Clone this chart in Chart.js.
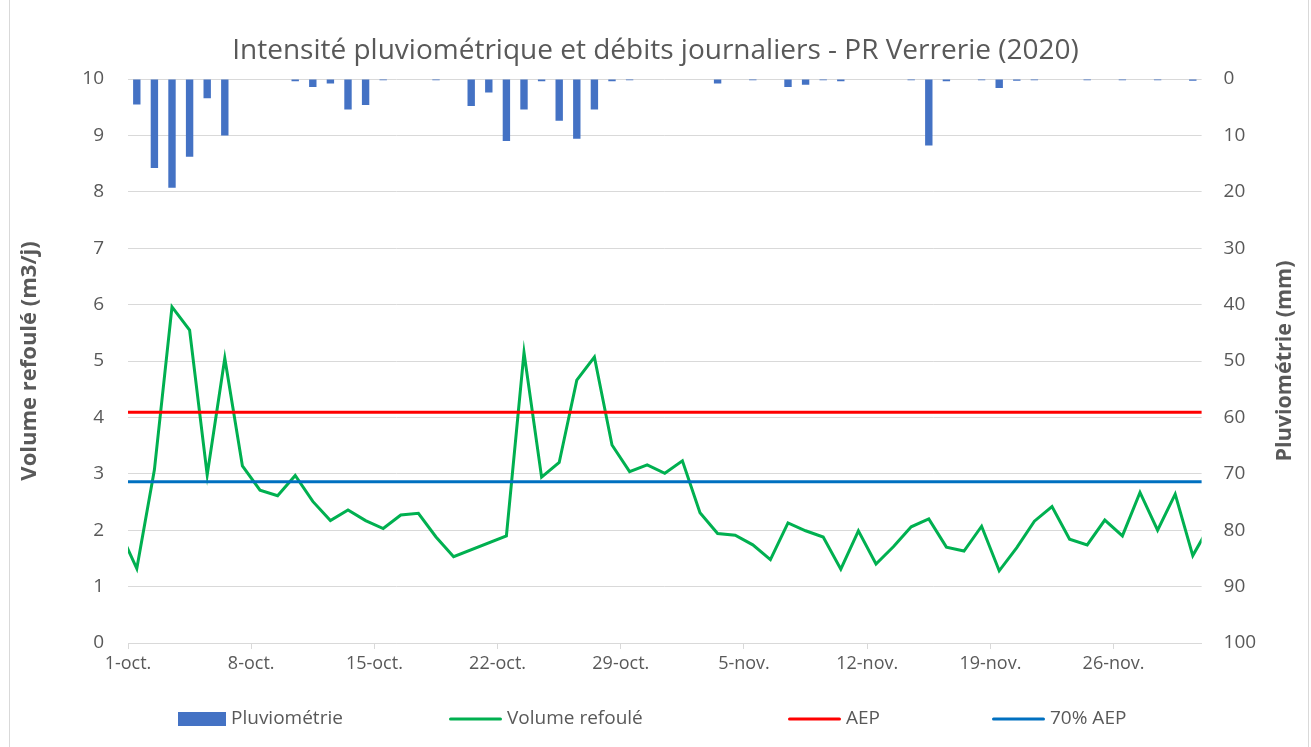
<!DOCTYPE html>
<html lang="fr">
<head>
<meta charset="utf-8">
<title>Intensité pluviométrique et débits journaliers - PR Verrerie (2020)</title>
<script src="https://cdn.jsdelivr.net/npm/chart.js@4.4.1/dist/chart.umd.min.js"></script>
<style>
  html, body { margin: 0; padding: 0; background: #fff; }
  #wrap { position: relative; width: 1311px; height: 747px; overflow: hidden; }
  #cadre { position: absolute; left: 9px; top: -2px; width: 1300px; height: 760px; border: 1px solid #d9d9d9; box-sizing: border-box; }
  canvas { position: absolute; left: 0; top: 0; }
</style>
</head>
<body>
<div id="wrap">
  <div id="cadre"></div>
  <canvas id="graphique" width="1311" height="747"></canvas>
</div>
<script>
// Données journalières, du 30-sept. au 1-déc. (le premier et le dernier jour sont coupés par les bords)
const volumeRefoule = [
  2.00,
  1.32, 3.07, 5.96, 5.55, 2.98, 5.05, 3.14, 2.71, 2.61, 2.97,
  2.51, 2.17, 2.36, 2.17, 2.03, 2.27, 2.30, 1.88, 1.53, null,
  null, 1.90, 5.15, 2.94, 3.20, 4.66, 5.07, 3.51, 3.04, 3.16,
  3.01,
  3.23, 2.31, 1.94, 1.91, 1.74, 1.48, 2.13, 1.99, 1.88, 1.31,
  1.99, 1.40, 1.71, 2.06, 2.20, 1.70, 1.63, 2.07, 1.28, 1.69,
  2.16, 2.42, 1.84, 1.74, 2.18, 1.90, 2.67, 2.00, 2.64, 1.55,
  2.10
];

const pluviometrie = [
  null,
  4.5, 15.8, 19.3, 13.8, 3.4, 10.0, 0, 0, 0, 0.4,
  1.4, 0.8, 5.4, 4.6, 0.2, 0, 0, 0.2, 0, 4.8,
  2.4, 11.0, 5.4, 0.4, 7.4, 10.6, 5.4, 0.4, 0.2, 0,
  0,
  0, 0, 0.8, 0, 0.2, 0, 1.4, 1.0, 0.2, 0.4,
  0, 0, 0, 0.2, 11.8, 0.4, 0, 0.2, 1.6, 0.3,
  0.2, 0, 0, 0.2, 0, 0.2, 0, 0.2, 0, 0.3,
  null
];

const tickLabels = ['1-oct.', '8-oct.', '15-oct.', '22-oct.', '29-oct.', '5-nov.', '12-nov.', '19-nov.', '26-nov.'];

const AEP = 4.09;
const AEP_70 = 2.86;

const textColor = '#595959';
const gridColor = '#d9d9d9';
const police = "'Open Sans', sans-serif";

// chaque valeur est placée au milieu de sa journée (jour 0 = 1-oct.)
function versPoints(valeurs) {
  return valeurs.map((v, i) => ({ x: i - 0.5, y: v }));
}

// titre de l'axe de droite, écrit de bas en haut comme celui de gauche
const titreDroit = {
  id: 'titreDroit',
  afterDraw(chart) {
    const ctx = chart.ctx;
    const area = chart.chartArea;
    ctx.save();
    ctx.translate(1285, (area.top + area.bottom) / 2);
    ctx.rotate(-Math.PI / 2);
    ctx.font = 'bold 21.5px ' + police;
    ctx.fillStyle = textColor;
    ctx.textAlign = 'center';
    ctx.textBaseline = 'middle';
    ctx.fillText('Pluviométrie (mm)', 0, 0);
    ctx.restore();
  }
};

// légende en bas, espacée comme dans Excel
const legende = {
  id: 'legende',
  afterDraw(chart, args, opts) {
    const ctx = chart.ctx;
    ctx.save();
    ctx.font = '19px ' + police;
    ctx.textBaseline = 'middle';
    chart.data.datasets.forEach((ds, i) => {
      const x = opts.x[i];
      const y = opts.y;
      let largeur;
      if (ds.type === 'bar') {
        largeur = 48;
        ctx.fillStyle = ds.backgroundColor;
        ctx.fillRect(x, y - 7, largeur, 14);
      } else {
        largeur = 53;
        ctx.strokeStyle = ds.borderColor;
        ctx.lineWidth = 3;
        ctx.lineCap = 'round';
        ctx.beginPath();
        ctx.moveTo(x + 1.5, y);
        ctx.lineTo(x + largeur - 1.5, y);
        ctx.stroke();
      }
      ctx.fillStyle = textColor;
      ctx.fillText(ds.label, x + largeur + 5, y);
    });
    ctx.restore();
  }
};

function initChart() {
  const ctx = document.getElementById('graphique').getContext('2d');
  new Chart(ctx, {
    type: 'bar',
    data: {
      datasets: [
        {
          type: 'bar',
          label: 'Pluviométrie',
          data: versPoints(pluviometrie),
          yAxisID: 'yPluie',
          backgroundColor: '#4472C4',
          barPercentage: 0.42,
          categoryPercentage: 1,
          order: 3
        },
        {
          type: 'line',
          label: 'Volume refoulé',
          data: versPoints(volumeRefoule),
          yAxisID: 'yVolume',
          borderColor: '#00B050',
          borderWidth: 3,
          pointRadius: 0,
          tension: 0,
          spanGaps: true,
          order: 2
        },
        {
          type: 'line',
          label: 'AEP',
          data: [{ x: -1, y: AEP }, { x: 62, y: AEP }],
          yAxisID: 'yVolume',
          borderColor: '#FF0000',
          borderWidth: 3,
          pointRadius: 0,
          order: 1
        },
        {
          type: 'line',
          label: '70% AEP',
          data: [{ x: -1, y: AEP_70 }, { x: 62, y: AEP_70 }],
          yAxisID: 'yVolume',
          borderColor: '#0070C0',
          borderWidth: 3,
          pointRadius: 0,
          order: 0
        }
      ]
    },
    options: {
      responsive: false,
      animation: false,
      layout: { padding: 0 },
      scales: {
        x: {
          type: 'linear',
          min: 0,
          max: 61,
          offset: false,
          grid: { drawOnChartArea: false, color: gridColor, tickLength: 6, offset: false },
          border: { color: gridColor },
          ticks: {
            stepSize: 7,
            includeBounds: false,
            autoSkip: false,
            maxRotation: 0,
            padding: 4,
            color: textColor,
            font: { family: police, size: 18 },
            callback: (v) => tickLabels[v / 7] || ''
          },
          afterFit(scale) { scale.height = 104; }
        },
        yVolume: {
          position: 'left',
          min: 0,
          max: 10,
          grid: { color: gridColor, drawTicks: false },
          border: { display: false },
          ticks: { stepSize: 1, padding: 24, color: textColor, font: { family: police, size: 19 } },
          title: {
            display: true,
            text: 'Volume refoulé (m3/j)',
            color: textColor,
            font: { family: police, size: 22, weight: 'bold' },
            padding: { top: 17, bottom: 0 }
          },
          afterFit(scale) { scale.width = 128; }
        },
        yPluie: {
          position: 'right',
          reverse: true,
          min: 0,
          max: 100,
          grid: { drawOnChartArea: false, drawTicks: false },
          border: { display: false },
          ticks: { stepSize: 10, padding: 22, color: textColor, font: { family: police, size: 19 } },
          afterFit(scale) { scale.width = 109.4; }
        }
      },
      plugins: {
        legend: { display: false },
        tooltip: { enabled: false },
        title: {
          display: true,
          text: 'Intensité pluviométrique et débits journaliers - PR Verrerie (2020)',
          color: textColor,
          font: { family: police, size: 28, weight: 'normal' },
          padding: { top: 34, bottom: 11.4 }
        },
        legende: { x: [178, 449, 788, 992], y: 719 }
      }
    },
    plugins: [titreDroit, legende]
  });
  console.log('graphique dessiné');
}

document.addEventListener('DOMContentLoaded', initChart);
</script>
</body>
</html>
